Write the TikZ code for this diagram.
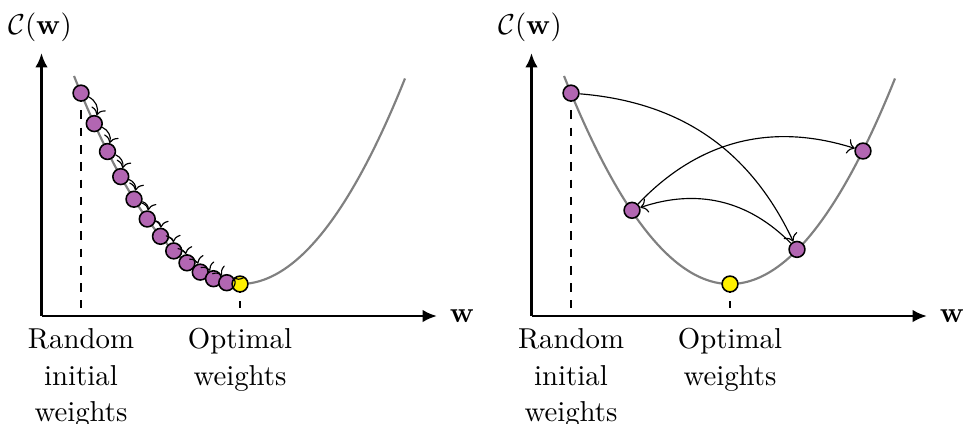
\documentclass[tikz,border=0pt]{standalone}
\usetikzlibrary{arrows.meta,backgrounds}
\definecolor{dotpurple}{RGB}{178,102,178}
\definecolor{dotyellow}{RGB}{255,240,0}
\definecolor{curvegray}{RGB}{128,128,128}
\tikzset{
  wdot/.style={circle, draw=black, line width=0.55pt, fill=dotpurple, minimum size=5.5pt, inner sep=0pt},
  optdot/.style={wdot, fill=dotyellow},
  axisline/.style={line width=1pt, -{Latex[length=5pt,width=4.4pt]}},
  guide/.style={dashed, line width=0.7pt},
  lossc/.style={curvegray, line width=0.75pt},
  stepar/.style={->, line width=0.4pt},
  lbl/.style={align=center, anchor=north, inner sep=0pt, font=\fontsize{10}{12.7}\selectfont},
}
\begin{document}
\begin{tikzpicture}[x=0.3472pt, y=-0.3472pt]
\useasboundingbox (0,0) rectangle (963,423);

% ---------------- left chart ----------------
\coordinate (Lo) at (41.5,316);
\coordinate (Ly) at (41.5,53);
\coordinate (Lx) at (437,316);
\draw[axisline] (Lo) -- (Ly);
\draw[axisline] (Lo) -- (Lx);
\node[anchor=base] (Lcost) at (40,34) {$\mathcal{C}(\mathbf{w})$};
\node (Lw) at (462,316.5) {$\mathbf{w}$};

\draw[lossc] plot[domain=-16.6:16.5, samples=100] ({240+10*\x},{284-0.755*\x*\x});

\node[wdot] (p0) at (81,93.1) {};
\node[wdot] (p1) at (94.25,123.6) {};
\node[wdot] (p2) at (107.5,151.5) {};
\node[wdot] (p3) at (120.75,176.6) {};
\node[wdot] (p4) at (134,199.2) {};
\node[wdot] (p5) at (147.25,219.0) {};
\node[wdot] (p6) at (160.5,236.3) {};
\node[wdot] (p7) at (173.75,250.9) {};
\node[wdot] (p8) at (187,262.8) {};
\node[wdot] (p9) at (200.25,272.1) {};
\node[wdot] (p10) at (213.5,278.7) {};
\node[wdot] (p11) at (226.75,282.7) {};
\node[optdot] (p12) at (240,284) {};

\coordinate (p0b) at (81,308);
\coordinate (p12b) at (240,308);
\begin{scope}[on background layer]
  \draw[guide] (p0.center) -- (p0b);
  \draw[guide] (p12.center) -- (p12b);
\end{scope}

\foreach \i/\j in {0/1,1/2,2/3,3/4,4/5,5/6,6/7,7/8,8/9,9/10,10/11,11/12}
  \draw[stepar] (p\i) to[bend left=40] (p\j);

\node[lbl] (Lrand) at (81,328) {Random\\initial\\weights};
\node[lbl] (Lopt) at (240,328) {Optimal\\weights};

% ---------------- right chart ----------------
\coordinate (Ro) at (531.5,316);
\coordinate (Ry) at (531.5,53);
\coordinate (Rx) at (927,316);
\draw[axisline] (Ro) -- (Ry);
\draw[axisline] (Ro) -- (Rx);
\node[anchor=base] (Rcost) at (530,34) {$\mathcal{C}(\mathbf{w})$};
\node (Rw) at (952,316.5) {$\mathbf{w}$};

\draw[lossc] plot[domain=-16.6:16.5, samples=100] ({730+10*\x},{284-0.755*\x*\x});

\node[wdot] (qa) at (571,93.1) {};
\node[wdot] (qb) at (797,249.4) {};
\node[wdot] (qd) at (632,210.3) {};
\node[wdot] (qc) at (863,151) {};
\node[optdot] (qo) at (730,284) {};

\coordinate (qab) at (571,308);
\coordinate (qob) at (730,308);
\begin{scope}[on background layer]
  \draw[guide] (qa.center) -- (qab);
  \draw[guide] (qo.center) -- (qob);
\end{scope}

\draw[stepar] (qa) to[bend left=30] (qb);
\draw[stepar] (qb) to[bend right=32] (qd);
\draw[stepar] (qd) to[bend left=32] (qc);

\node[lbl] (Rrand) at (571,328) {Random\\initial\\weights};
\node[lbl] (Ropt) at (730,328) {Optimal\\weights};
\end{tikzpicture}
\end{document}
